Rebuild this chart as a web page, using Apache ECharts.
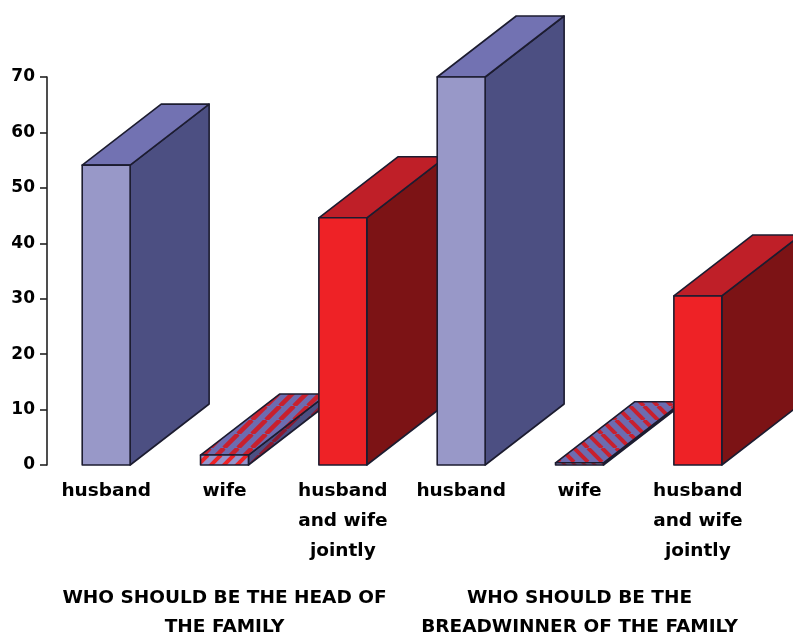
<!DOCTYPE html>
<html>

<head>
    <script src="https://cdn.jsdelivr.net/npm/echarts@6/dist/echarts.min.js"></script>
</head>

<body style="margin: 0; background: #fff;">
<div id="echartsMain" style="width: 793px; height: 636px;"></div>
</body>

</html>

<script type="text/javascript">
    const categories = ['husband', 'wife', 'husband\nand wife\njointly', 'husband', 'wife', 'husband\nand wife\njointly']
    const groupLabels = ['WHO SHOULD BE THE HEAD OF\nTHE FAMILY', 'WHO SHOULD BE THE\nBREADWINNER OF THE FAMILY']
    const yTicks = [0, 10, 20, 30, 40, 50, 60, 70]
    const headValues = [54.1, 1.8, 44.6]
    const breadwinnerValues = [70, 0.4, 30.5]

    const font = 'DejaVu Sans'
    const edge = '#1c1c30'
    const depthX = 79
    const depthY = -61

    function stripes(bg, fg, dir, size, width) {
        let c = document.createElement('canvas')
        c.width = size
        c.height = size
        let ctx = c.getContext('2d')
        ctx.fillStyle = bg
        ctx.fillRect(0, 0, size, size)
        ctx.strokeStyle = fg
        ctx.lineWidth = width
        for (let i = -size; i <= size; i += size) {
            ctx.beginPath()
            if (dir > 0) {
                ctx.moveTo(i, size)
                ctx.lineTo(i + size, 0)
            } else {
                ctx.moveTo(i, 0)
                ctx.lineTo(i + size, size)
            }
            ctx.stroke()
        }
        return {image: c, repeat: 'repeat'}
    }

    const blueFaces = {front: '#9898c8', top: '#7272b2', side: '#4c4f82'}
    const redFaces = {front: '#ee2226', top: '#bf1f28', side: '#7c1315'}
    const wifeHeadFaces = {
        front: stripes('#9494cc', '#ee2226', 1, 13, 4),
        top: stripes('#6c6cb0', '#c8202e', 1, 14, 4.5),
        side: stripes('#4c4f82', '#8a1a30', 1, 13, 3.5)
    }
    const wifeBreadFaces = {
        front: stripes('#8080b8', '#c8202e', -1, 10, 3),
        top: stripes('#6c6cb0', '#c8202e', -1, 14, 4),
        side: stripes('#4c4f82', '#8a1a30', -1, 13, 3)
    }
    const barFaces = [blueFaces, wifeHeadFaces, redFaces, blueFaces, wifeBreadFaces, redFaces]

    function renderBar(params, api) {
        let idx = api.value(0)
        let top = api.coord([idx, api.value(1)])
        let base = api.coord([idx, 0])
        let w = api.size([1, 0])[0] * 0.405
        let x0 = top[0] - w / 2
        let x1 = top[0] + w / 2
        let y0 = top[1]
        let y1 = base[1]
        let faces = barFaces[idx]
        let face = (points, fill) => ({
            type: 'polygon',
            shape: {points: points},
            style: {fill: fill, stroke: edge, lineWidth: 1.6, lineJoin: 'round'}
        })
        return {
            type: 'group',
            children: [
                face([[x1, y0], [x1 + depthX, y0 + depthY], [x1 + depthX, y1 + depthY], [x1, y1]], faces.side),
                face([[x0, y0], [x0 + depthX, y0 + depthY], [x1 + depthX, y0 + depthY], [x1, y0]], faces.top),
                face([[x0, y0], [x1, y0], [x1, y1], [x0, y1]], faces.front)
            ]
        }
    }

    function draw() {
        let myChart = echarts.init(document.getElementById('echartsMain'), null, {renderer: 'canvas'})
        let values = headValues.concat(breadwinnerValues)
        let barData = values.map((v, i) => [i, v])

        let option = {
            animation: false,
            grid: {left: 47, top: 77, width: 710, height: 388, outerBoundsMode: 'none'},
            xAxis: [
                {
                    type: 'category',
                    data: categories,
                    axisLine: {show: false},
                    axisTick: {show: false},
                    axisLabel: {
                        interval: 0,
                        margin: 11,
                        color: '#000',
                        fontFamily: font,
                        fontWeight: 'bold',
                        fontSize: 18.5,
                        lineHeight: 30,
                        verticalAlign: 'top'
                    }
                },
                {
                    type: 'category',
                    position: 'bottom',
                    offset: 119,
                    data: groupLabels,
                    axisLine: {show: false},
                    axisTick: {show: false},
                    axisLabel: {
                        interval: 0,
                        margin: 0,
                        color: '#000',
                        fontFamily: font,
                        fontWeight: 'bold',
                        fontSize: 18.5,
                        lineHeight: 29,
                        verticalAlign: 'top'
                    }
                }
            ],
            yAxis: {
                type: 'value',
                min: yTicks[0],
                max: yTicks[yTicks.length - 1],
                interval: 10,
                splitLine: {show: false},
                axisLine: {show: true, lineStyle: {color: '#222', width: 1.6}},
                axisTick: {show: true, length: 7, lineStyle: {color: '#222', width: 1.6}},
                axisLabel: {
                    margin: 12,
                    color: '#000',
                    fontFamily: font,
                    fontWeight: 'bold',
                    fontSize: 17,
                    padding: [3, 0, 0, 0]
                }
            },
            series: [
                {
                    type: 'custom',
                    name: 'share',
                    clip: false,
                    renderItem: renderBar,
                    encode: {x: 0, y: 1},
                    data: barData
                }
            ]
        }
        myChart.setOption(option)
    }

    draw()
</script>
